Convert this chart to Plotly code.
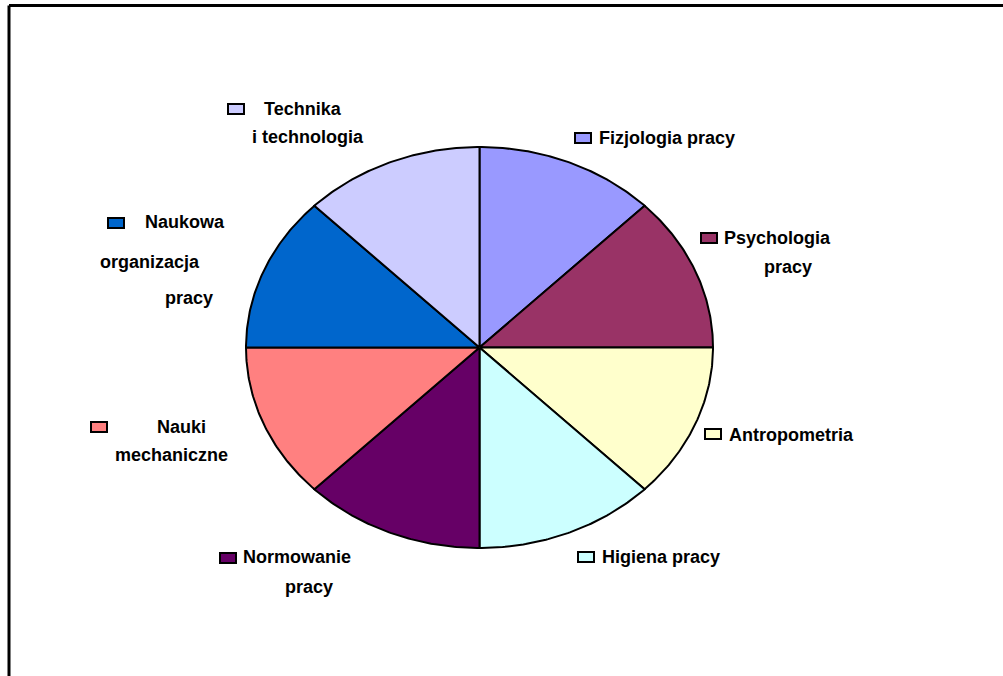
import numpy as np
import plotly.graph_objects as go

# ---- data ----
categories = ["Fizjologia pracy", "Psychologia pracy", "Antropometria", "Higiena pracy",
              "Normowanie pracy", "Nauki mechaniczne", "Naukowa organizacja pracy",
              "Technika i technologia"]
values = [1, 1, 1, 1, 1, 1, 1, 1]
label_lines = [["Fizjologia pracy"], ["Psychologia", "pracy"], ["Antropometria"],
               ["Higiena pracy"], ["Normowanie", "pracy"], ["Nauki", "mechaniczne"],
               ["Naukowa", "organizacja", "pracy"], ["Technika", "i technologia"]]
colors = ["#9999FF", "#993366", "#FFFFCC", "#CCFFFF", "#660066", "#FF8080", "#0066CC", "#CCCCFF"]

# ---- layout (pixel positions) ----
W, H = 1003, 676
cx, cy, a, b = 479.5, 347.5, 233.5, 200.5
# legend square [x0, y0] and text line positions [(x_left, y_center), ...]
squares = [(575, 133), (701, 233), (705, 429), (578, 552), (220, 553), (91, 422), (108, 218), (228, 104)]
text_pos = [
    [(597, 138)],
    [(722, 238), (762, 267)],
    [(727, 435)],
    [(600, 557)],
    [(241, 557), (283, 587)],
    [(155, 427), (113, 455)],
    [(143, 222), (98, 262), (163, 298)],
    [(262, 109), (250, 137)],
]

fig = go.Figure()
total = sum(values)
cum = 0.0
for cat, v, col in zip(categories, values, colors):
    t0 = 2 * np.pi * cum / total
    t1 = 2 * np.pi * (cum + v) / total
    th = np.linspace(t0, t1, 80)
    xs = np.concatenate([[0], np.sin(th), [0]])
    ys = np.concatenate([[0], np.cos(th), [0]])
    fig.add_trace(go.Scatter(x=xs, y=ys, mode="lines", fill="toself", fillcolor=col,
                             line=dict(color="black", width=2), name=cat,
                             hoverinfo="name", showlegend=False))
    cum += v

def px(x):
    return x / W

def py(y):
    return 1 - y / H

shapes = []
annotations = []
font = dict(family="Liberation Sans, Arial, sans-serif", size=18, color="black")
for i, col in enumerate(colors):
    sx, sy = squares[i]
    shapes.append(dict(type="rect", xref="paper", yref="paper",
                       x0=px(sx), x1=px(sx + 16), y0=py(sy), y1=py(sy + 10),
                       fillcolor=col, line=dict(color="black", width=2)))
    for line, (tx, ty) in zip(label_lines[i], text_pos[i]):
        annotations.append(dict(text="<b>" + line + "</b>", xref="paper", yref="paper",
                                x=px(tx), y=py(ty), xanchor="left", yanchor="middle",
                                showarrow=False, font=font))

# outer frame (top and left edges visible)
shapes.append(dict(type="line", xref="paper", yref="paper", x0=px(9), x1=1.01,
                   y0=py(5.5), y1=py(5.5), line=dict(color="black", width=3)))
shapes.append(dict(type="line", xref="paper", yref="paper", x0=px(9), x1=px(9),
                   y0=py(5.5), y1=-0.01, line=dict(color="black", width=3)))

fig.update_layout(
    width=W, height=H,
    margin=dict(l=0, r=0, t=0, b=0),
    paper_bgcolor="white", plot_bgcolor="white",
    xaxis=dict(range=[-cx / a, (W - cx) / a], visible=False, fixedrange=True),
    yaxis=dict(range=[-(H - cy) / b, cy / b], visible=False, fixedrange=True),
    shapes=shapes, annotations=annotations,
)

fig.write_html("out.html", config={"displayModeBar": False},
               post_script="document.body.style.margin='0px';document.body.style.overflow='hidden';")
